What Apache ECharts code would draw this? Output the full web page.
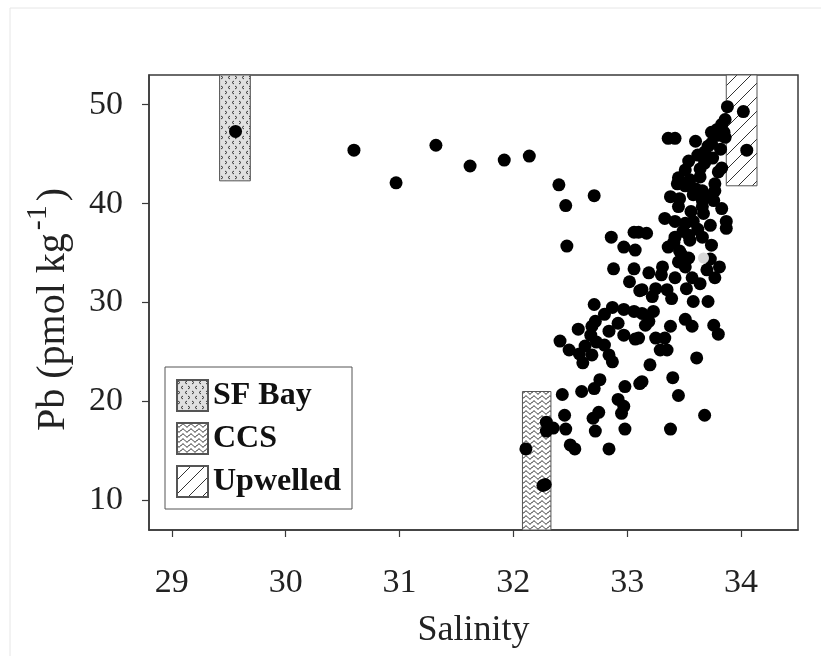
<!DOCTYPE html>
<html>
<head>
<meta charset="utf-8">
<script src="https://cdn.jsdelivr.net/npm/echarts@6/dist/echarts.min.js"></script>
<style>
  html, body { margin: 0; padding: 0; background: #fff; }
  #chart { width: 821px; height: 656px; }
</style>
</head>
<body>
<div id="chart"></div>
<script>
// Tick values
const xTicks = [29, 30, 31, 32, 33, 34];
const yTicks = [10, 20, 30, 40, 50];

// Source ranges (salinity span and Pb span) for each end-member
const boxNames = ['SF Bay', 'CCS', 'Upwelled'];
const boxSalinity = [[29.42, 29.69], [32.08, 32.33], [33.87, 34.14]];
const boxPb = [[42.3, 53], [7, 21], [41.8, 53]];

// Samples: salinity and dissolved Pb (pmol/kg)
const salinity = [
  29.56, 30.60, 30.97, 31.32, 31.62, 31.92, 32.14, 32.40, 32.46, 32.71,
  32.47, 32.86, 32.97, 33.06, 33.07, 32.88, 33.06, 33.11, 32.71, 32.87,
  32.97, 33.06, 32.80, 32.92, 32.72, 32.69, 32.57, 32.68, 32.84, 32.97,
  33.07, 32.41, 32.73, 32.80, 32.49, 32.63, 32.58, 32.69, 32.84, 32.61,
  32.87, 32.76, 32.71, 32.60, 32.98, 33.11, 32.43, 32.92, 32.97, 32.95,
  32.75, 32.70, 32.45, 32.29, 32.29, 32.35, 32.46, 32.72, 32.98, 32.50,
  32.54, 32.84, 32.11, 32.28, 32.26, 33.88, 34.02, 33.86, 33.83, 33.79,
  33.85, 33.74, 33.86, 33.36, 33.42, 33.60, 33.74, 33.82, 34.05, 33.68,
  33.67, 33.54, 33.68, 33.64, 33.83, 33.80, 33.51, 33.45, 33.55, 33.64,
  33.44, 33.51, 33.60, 33.77, 33.66, 33.77, 33.38, 33.46, 33.66, 33.76,
  33.45, 33.66, 33.83, 33.67, 33.33, 33.42, 33.51, 33.58, 33.73, 33.87,
  33.87, 33.10, 33.17, 33.42, 33.54, 33.66, 33.41, 33.55, 33.74, 33.48,
  33.45, 33.54, 33.73, 33.51, 33.31, 33.81, 33.70, 33.77, 33.19, 33.30,
  33.42, 33.57, 33.64, 33.13, 33.25, 33.35, 33.52, 33.22, 33.39, 33.58,
  33.71, 33.13, 33.23, 33.19, 33.16, 33.51, 33.57, 33.38, 33.76, 33.80,
  33.10, 33.25, 33.33, 33.29, 33.35, 33.61, 33.20, 33.40, 33.13, 33.45,
  33.68, 33.38, 33.71, 33.62, 33.75, 33.58, 33.71, 33.56, 33.62, 33.49,
  33.80, 33.36, 33.46, 33.02
];
const pb = [
  47.3, 45.4, 42.1, 45.9, 43.8, 44.4, 44.8, 41.9, 39.8, 40.8,
  35.7, 36.6, 35.6, 37.1, 35.3, 33.4, 33.4, 31.2, 29.8, 29.5,
  29.3, 29.1, 28.8, 27.9, 28.1, 27.6, 27.3, 26.7, 27.1, 26.7,
  26.3, 26.1, 26.0, 25.7, 25.2, 25.6, 24.8, 24.7, 24.7, 23.9,
  24.0, 22.2, 21.3, 21.0, 21.5, 21.8, 20.7, 20.2, 19.5, 18.8,
  18.9, 18.3, 18.6, 17.9, 17.0, 17.3, 17.2, 17.0, 17.2, 15.6,
  15.2, 15.2, 15.2, 11.6, 11.5, 49.8, 49.3, 48.5, 48.0, 47.5,
  47.2, 47.2, 46.7, 46.6, 46.6, 46.3, 46.1, 45.5, 45.4, 45.2,
  44.7, 44.3, 44.1, 43.5, 43.6, 43.2, 43.4, 42.6, 42.4, 42.7,
  42.0, 41.8, 41.5, 42.0, 41.3, 41.3, 40.7, 40.5, 40.3, 40.3,
  39.7, 39.7, 39.5, 39.0, 38.5, 38.2, 38.0, 38.2, 37.8, 38.2,
  37.5, 37.1, 37.0, 36.6, 36.8, 36.6, 36.1, 36.3, 35.8, 34.8,
  34.1, 34.5, 34.4, 33.6, 33.6, 33.6, 33.3, 32.5, 33.0, 32.8,
  32.5, 32.5, 31.9, 31.3, 31.4, 31.3, 31.4, 30.6, 30.4, 30.1,
  30.1, 28.9, 29.1, 28.1, 27.7, 28.3, 27.6, 27.6, 27.7, 26.8,
  26.4, 26.4, 26.4, 25.2, 25.2, 24.4, 23.7, 22.4, 22.0, 20.6,
  18.6, 17.2, 45.8, 44.9, 44.6, 40.9, 40.8, 39.2, 37.4, 37.2,
  46.9, 35.6, 35.2, 32.1
];

// One sample drawn with a light fill
const highlightSalinity = [33.67];
const highlightPb = [34.5];

const serif = 'Liberation Serif, Times New Roman, serif';

function makePattern(w, h, bg, draw) {
  const c = document.createElement('canvas');
  c.width = w; c.height = h;
  const ctx = c.getContext('2d');
  ctx.fillStyle = bg;
  ctx.fillRect(0, 0, w, h);
  draw(ctx);
  return { image: c, repeat: 'repeat' };
}

// Chevron marks on grey
const chevronFill = makePattern(14, 10, '#e0e0e0', ctx => {
  ctx.strokeStyle = '#3a3a3a';
  ctx.lineWidth = 1;
  const gt = (x, y) => { ctx.moveTo(x, y); ctx.lineTo(x + 2, y + 1.5); ctx.lineTo(x, y + 3); };
  const lt = (x, y) => { ctx.moveTo(x + 2, y); ctx.lineTo(x, y + 1.5); ctx.lineTo(x + 2, y + 3); };
  ctx.beginPath();
  gt(1, 1); lt(8, 1); lt(4, 6); gt(11, 6);
  ctx.stroke();
});

// Horizontal waves
const waveFill = makePattern(8, 5, '#fff', ctx => {
  ctx.strokeStyle = '#111';
  ctx.lineWidth = 1;
  ctx.beginPath();
  for (let x = 0; x <= 8; x += 0.5) {
    const y = 2.5 + 1.5 * Math.sin(2 * Math.PI * x / 8);
    if (x === 0) ctx.moveTo(x, y); else ctx.lineTo(x, y);
  }
  ctx.stroke();
});

// Diagonal hatching
const hatchFill = makePattern(14, 14, '#fff', ctx => {
  ctx.strokeStyle = '#333';
  ctx.lineWidth = 1;
  ctx.beginPath();
  ctx.moveTo(0, 14); ctx.lineTo(14, 0);
  ctx.moveTo(-1, 1); ctx.lineTo(1, -1);
  ctx.moveTo(13, 15); ctx.lineTo(15, 13);
  ctx.stroke();
});

const boxFills = [chevronFill, waveFill, hatchFill];

const boxSeries = boxNames.map((name, i) => ({
  name: name,
  type: 'custom',
  z: 1,
  itemStyle: { color: boxFills[i], borderColor: '#555', borderWidth: 1 },
  data: [[boxSalinity[i][0], boxSalinity[i][1], boxPb[i][0], boxPb[i][1]]],
  encode: { x: [0, 1], y: [2, 3] },
  renderItem: (params, api) => {
    const a = api.coord([api.value(0), api.value(3)]);
    const b = api.coord([api.value(1), api.value(2)]);
    return {
      type: 'rect',
      shape: { x: a[0], y: a[1], width: b[0] - a[0], height: b[1] - a[1] },
      style: { fill: boxFills[i], stroke: '#555', lineWidth: 1 }
    };
  }
}));

const chart = echarts.init(document.getElementById('chart'), null, { renderer: 'canvas' });

chart.setOption({
  backgroundColor: '#fff',
  animation: false,
  graphic: [{
    type: 'rect',
    shape: { x: 10, y: 8, width: 900, height: 700 },
    style: { fill: 'none', stroke: '#e6e6e6', lineWidth: 1 },
    silent: true
  }],
  grid: {
    left: 149, right: 23, top: 75, bottom: 126,
    show: true, borderColor: '#3a3a3a', borderWidth: 1.5, backgroundColor: 'transparent'
  },
  legend: {
    data: boxNames,
    orient: 'vertical',
    left: 165, top: 367,
    padding: [12, 11, 11, 11],
    itemGap: 10,
    itemWidth: 31, itemHeight: 31,
    icon: 'rect',
    borderColor: '#555', borderWidth: 1,
    backgroundColor: '#fff',
    textStyle: { fontFamily: serif, fontWeight: 'bold', fontSize: 32, color: '#111' },
    selectedMode: false
  },
  xAxis: {
    type: 'value',
    min: 28.8, max: 34.5,
    name: 'Salinity',
    nameLocation: 'middle',
    nameGap: 83,
    nameTextStyle: { fontFamily: serif, fontSize: 36, color: '#222' },
    axisLine: { show: true, lineStyle: { color: '#3a3a3a', width: 1.5 } },
    axisTick: { show: true, length: 7, customValues: xTicks, lineStyle: { color: '#3a3a3a', width: 1.2 } },
    axisLabel: { customValues: xTicks, margin: 36, fontFamily: serif, fontSize: 34, color: '#222' },
    splitLine: { show: false }
  },
  yAxis: {
    type: 'value',
    min: 7, max: 53,
    name: '{n|Pb (pmol kg}{s|-1}{n|)}',
    nameLocation: 'middle',
    nameGap: 76,
    nameTextStyle: {
      padding: [0, 14, 0, 0],
      rich: {
        n: { fontFamily: serif, fontSize: 40, color: '#222', lineHeight: 42, verticalAlign: 'bottom' },
        s: { fontFamily: serif, fontSize: 30, color: '#222', lineHeight: 30, verticalAlign: 'bottom', padding: [0, 4, 20, 3] }
      }
    },
    axisLine: { show: true, lineStyle: { color: '#3a3a3a', width: 1.5 } },
    axisTick: { show: true, length: 7, customValues: yTicks, lineStyle: { color: '#3a3a3a', width: 1.2 } },
    axisLabel: { customValues: yTicks, margin: 26, fontFamily: serif, fontSize: 34, color: '#222' },
    splitLine: { show: false }
  },
  series: [
    ...boxSeries,
    {
      name: 'samples',
      type: 'scatter',
      z: 3,
      symbol: 'circle',
      symbolSize: 13,
      itemStyle: { color: '#000', opacity: 1 },
      data: salinity.map((s, i) => [s, pb[i]])
    },
    {
      name: 'highlight',
      type: 'scatter',
      z: 4,
      symbol: 'circle',
      symbolSize: 11,
      itemStyle: { color: '#d8d8d8', opacity: 1 },
      data: highlightSalinity.map((s, i) => [s, highlightPb[i]])
    }
  ]
});
</script>
</body>
</html>
